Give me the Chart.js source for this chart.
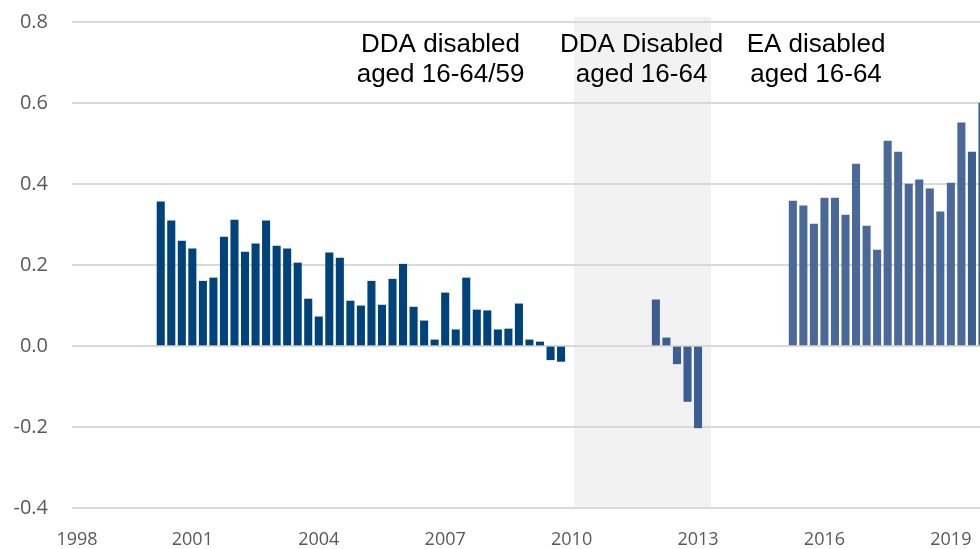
<!DOCTYPE html>
<html>
<head>
<meta charset="utf-8">
<script src="https://cdn.jsdelivr.net/npm/chart.js@4/dist/chart.umd.min.js"></script>
<style>
  html, body { margin: 0; padding: 0; background: #fff; overflow: hidden; }
  #wrap { width: 980px; height: 549px; overflow: hidden; }
</style>
</head>
<body>
<div id="wrap"><canvas id="chart" width="993" height="549"></canvas></div>
<script>
// DDA disabled aged 16-64/59, quarterly from 2000.25
const ddaOldStart = 2000.25;
const ddaOldValues = [
  0.356, 0.309, 0.259, 0.240, 0.160, 0.168, 0.269, 0.311, 0.232, 0.252,
  0.309, 0.247, 0.240, 0.205, 0.116, 0.072, 0.230, 0.217, 0.111, 0.099,
  0.160, 0.101, 0.165, 0.202, 0.096, 0.062, 0.015, 0.131, 0.040, 0.168,
  0.089, 0.087, 0.040, 0.042, 0.104, 0.015, 0.010, -0.034, -0.038
];

// DDA Disabled aged 16-64, quarterly from 2012.0
const ddaNewStart = 2012.0;
const ddaNewValues = [0.114, 0.020, -0.044, -0.137, -0.202];

// EA disabled aged 16-64, quarterly from 2015.25
const eaStart = 2015.25;
const eaValues = [
  0.358, 0.346, 0.301, 0.365, 0.365, 0.323, 0.449, 0.296, 0.237, 0.506,
  0.479, 0.400, 0.410, 0.388, 0.331, 0.402, 0.551, 0.479, 0.600
];

const tickYears = [1998, 2001, 2004, 2007, 2010, 2013, 2016, 2019];
const yTicks = [-0.4, -0.2, 0.0, 0.2, 0.4, 0.6, 0.8];

// shaded period and text labels
const shadeFrom = 2010.06;
const shadeTo = 2013.31;
const notes = [
  { x: 2006.89, lines: ["DDA disabled", "aged 16-64/59"] },
  { x: 2011.66, lines: ["DDA Disabled", "aged 16-64"] },
  { x: 2015.80, lines: ["EA disabled", "aged 16-64"] }
];

function toPoints(start, values) {
  return values.map((v, i) => ({ x: start + i * 0.25, y: v }));
}

const shadePlugin = {
  id: "shade",
  beforeDraw(chart) {
    const { ctx, scales } = chart;
    const x1 = scales.x.getPixelForValue(shadeFrom);
    const x2 = scales.x.getPixelForValue(shadeTo);
    const yTop = scales.y.getPixelForValue(0.8) - 5;
    const yBot = scales.y.getPixelForValue(-0.4);
    ctx.save();
    ctx.fillStyle = "#f2f2f2";
    ctx.fillRect(x1, yTop, x2 - x1, yBot - yTop);
    ctx.restore();
  },
  afterDraw(chart) {
    const { ctx, scales } = chart;
    const top = scales.y.getPixelForValue(0.8);
    ctx.save();
    ctx.font = '26px "Liberation Sans", Arial, sans-serif';
    ctx.fillStyle = "#000";
    ctx.textAlign = "center";
    ctx.textBaseline = "alphabetic";
    notes.forEach(n => {
      const x = scales.x.getPixelForValue(n.x);
      n.lines.forEach((line, i) => {
        ctx.fillText(line, x, top + 30 + i * 30);
      });
    });
    ctx.restore();
  }
};

new Chart(document.getElementById("chart"), {
  type: "bar",
  data: {
    datasets: [
      {
        data: toPoints(ddaOldStart, ddaOldValues),
        backgroundColor: "#00427a",
        barThickness: 7.4
      },
      {
        data: toPoints(ddaNewStart, ddaNewValues),
        backgroundColor: "#3d5e93",
        barThickness: 7.4
      },
      {
        data: toPoints(eaStart, eaValues),
        backgroundColor: ctx => ctx.dataIndex >= eaValues.length - 2 ? "#3a5f93" : "#4a6898",
        barThickness: 7.4
      }
    ]
  },
  options: {
    responsive: false,
    animation: false,
    grouped: false,
    layout: { padding: { top: 22, left: 0, right: 0, bottom: 0 } },
    plugins: {
      legend: { display: false },
      tooltip: { enabled: false }
    },
    scales: {
      x: {
        type: "linear",
        min: 1998.144,
        max: 2020.0,
        offset: false,
        grid: { display: false },
        border: { display: false },
        afterBuildTicks: scale => {
          scale.ticks = tickYears.map(y => ({ value: Math.max(y, scale.min + 0.12) }));
        },
        afterFit: scale => {
          scale.height = 41;
          scale.paddingLeft = 0;
          scale.paddingRight = 0;
        },
        ticks: {
          padding: 13,
          maxRotation: 0,
          autoSkip: false,
          color: "#595959",
          font: { family: '"Open Sans"', size: 18 },
          callback: (value, index) => String(tickYears[index])
        }
      },
      y: {
        min: -0.4,
        max: 0.8,
        afterBuildTicks: scale => {
          scale.ticks = yTicks.map(v => ({ value: v }));
        },
        afterFit: scale => {
          scale.width = 72;
          scale.paddingTop = 0;
          scale.paddingBottom = 0;
        },
        grid: { color: "#d9d9d9", lineWidth: 2, drawTicks: false },
        border: { display: false },
        ticks: {
          padding: 24,
          color: "#595959",
          font: { family: '"Open Sans"', size: 20 },
          callback: v => v.toFixed(1)
        }
      }
    }
  },
  plugins: [shadePlugin]
});
</script>
</body>
</html>
